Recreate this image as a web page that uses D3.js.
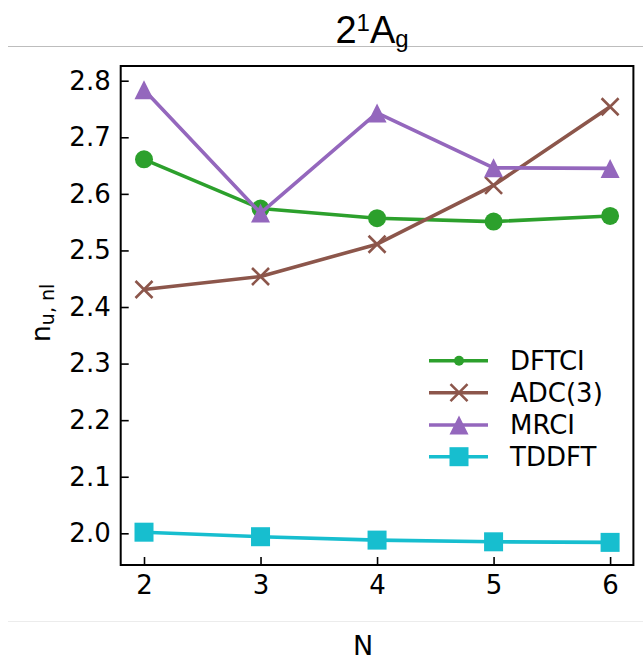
<!DOCTYPE html>
<html>
<head>
<meta charset="utf-8">
<script src="https://cdn.jsdelivr.net/npm/d3@7"></script>
<style>
  html, body { margin: 0; padding: 0; background: #fff; }
  svg { display: block; }
</style>
</head>
<body>
<svg id="chart" width="643" height="662"></svg>
<script>
// ---- data ----
const N = [2, 3, 4, 5, 6];
const dftci = [2.661, 2.574, 2.557, 2.551, 2.561];
const adc3  = [2.431, 2.454, 2.511, 2.615, 2.754];
const mrci  = [2.784, 2.566, 2.743, 2.646, 2.645];
const tddft = [2.002, 1.994, 1.988, 1.985, 1.984];
const xTicks = [2, 3, 4, 5, 6];
const yTicks = [2.0, 2.1, 2.2, 2.3, 2.4, 2.5, 2.6, 2.7, 2.8];
const seriesNames = ["DFTCI", "ADC(3)", "MRCI", "TDDFT"];

const series = [
  { name: seriesNames[0], values: dftci, color: "#2ca02c", marker: "circle" },
  { name: seriesNames[1], values: adc3,  color: "#8c564b", marker: "x" },
  { name: seriesNames[2], values: mrci,  color: "#9467bd", marker: "triangle" },
  { name: seriesNames[3], values: tddft, color: "#17becf", marker: "square" }
];

const svg = d3.select("#chart");
const pLeft = 120.7, pRight = 633.4, pTop = 66, pBottom = 565;
const font = "'DejaVu Sans', sans-serif";

const x = d3.scaleLinear().domain([1.8, 6.2]).range([pLeft, pRight]);
const y = d3.scaleLinear().domain([1.944, 2.826]).range([pBottom, pTop]);

// decorative separators
svg.append("line").attr("x1", 8).attr("x2", 643).attr("y1", 46.5).attr("y2", 46.5)
  .attr("stroke", "#bdbdbd").attr("stroke-width", 1);
svg.append("line").attr("x1", 8).attr("x2", 643).attr("y1", 621.5).attr("y2", 621.5)
  .attr("stroke", "#ececec").attr("stroke-width", 1);

// title
const title = svg.append("text")
  .attr("x", 372).attr("y", 43)
  .attr("text-anchor", "middle")
  .attr("font-family", "'Liberation Sans', Arial, sans-serif")
  .attr("font-size", 38).attr("fill", "#000");
title.append("tspan").text("2");
title.append("tspan").attr("font-size", 24).attr("dy", -12).text("1");
title.append("tspan").attr("dy", 12).text("A");
title.append("tspan").attr("font-size", 24).attr("dy", 4).text("g");

// axes
const xAxis = d3.axisBottom(x).tickValues(xTicks).tickFormat(d3.format("d"))
  .tickSizeInner(-8).tickSizeOuter(0).tickPadding(11);
const yAxis = d3.axisLeft(y).tickValues(yTicks).tickFormat(d3.format(".1f"))
  .tickSizeInner(-8).tickSizeOuter(0).tickPadding(10);

const gx = svg.append("g").attr("transform", `translate(0,${pBottom})`).call(xAxis);
const gy = svg.append("g").attr("transform", `translate(${pLeft},0)`).call(yAxis);
[gx, gy].forEach(g => {
  g.select(".domain").remove();
  g.selectAll(".tick line").attr("stroke", "#000").attr("stroke-width", 1.6);
  g.selectAll(".tick text").attr("font-family", font).attr("font-size", 26).attr("fill", "#000");
});

// lines & markers
const line = d3.line().x((d, i) => x(N[i])).y(d => y(d));

function drawMarker(g, type, cx, cy, color, small) {
  if (type === "circle") {
    g.append("circle").attr("cx", cx).attr("cy", cy).attr("r", small ? 5 : 9).attr("fill", color);
  } else if (type === "square") {
    const s = 19;
    g.append("rect").attr("x", cx - s / 2).attr("y", cy - s / 2).attr("width", s).attr("height", s).attr("fill", color);
  } else if (type === "triangle") {
    const h = 9.5;
    g.append("path").attr("d", `M${cx},${cy - h} L${cx + h},${cy + h} L${cx - h},${cy + h} Z`).attr("fill", color);
  } else if (type === "x") {
    const h = 8.5;
    g.append("path").attr("d", `M${cx - h},${cy - h} L${cx + h},${cy + h} M${cx - h},${cy + h} L${cx + h},${cy - h}`)
      .attr("stroke", color).attr("stroke-width", 2.6).attr("fill", "none");
  }
}

const plot = svg.append("g");
series.forEach(s => {
  const g = plot.append("g");
  g.append("path").datum(s.values).attr("d", line)
    .attr("fill", "none").attr("stroke", s.color).attr("stroke-width", 3.6)
    .attr("stroke-linejoin", "round");
  s.values.forEach((v, i) => drawMarker(g, s.marker, x(N[i]), y(v), s.color, false));
});

// frame
svg.append("rect").attr("x", pLeft).attr("y", pTop).attr("width", pRight - pLeft).attr("height", pBottom - pTop)
  .attr("fill", "none").attr("stroke", "#000").attr("stroke-width", 2);

// legend
const legY = [360.7, 392.7, 425, 456.7];
const leg = svg.append("g");
series.forEach((s, i) => {
  const ly = legY[i];
  leg.append("line").attr("x1", 429).attr("x2", 488).attr("y1", ly).attr("y2", ly)
    .attr("stroke", s.color).attr("stroke-width", 3.6);
  drawMarker(leg, s.marker, 459, ly, s.color, s.marker === "circle");
  leg.append("text").attr("x", 510).attr("y", ly).attr("dy", "0.36em")
    .attr("font-family", font).attr("font-size", 26).attr("fill", "#000").text(s.name);
});

// axis labels
svg.append("text").attr("x", 363).attr("y", 655).attr("text-anchor", "middle")
  .attr("font-family", font).attr("font-size", 27).attr("fill", "#000").text("N");

const yl = svg.append("text")
  .attr("transform", "translate(50,313) rotate(-90)")
  .attr("text-anchor", "middle")
  .attr("font-family", font).attr("font-size", 27).attr("fill", "#000");
yl.append("tspan").text("n");
yl.append("tspan").attr("font-size", 19).attr("dy", 4).text("u, nl");
</script>
</body>
</html>
